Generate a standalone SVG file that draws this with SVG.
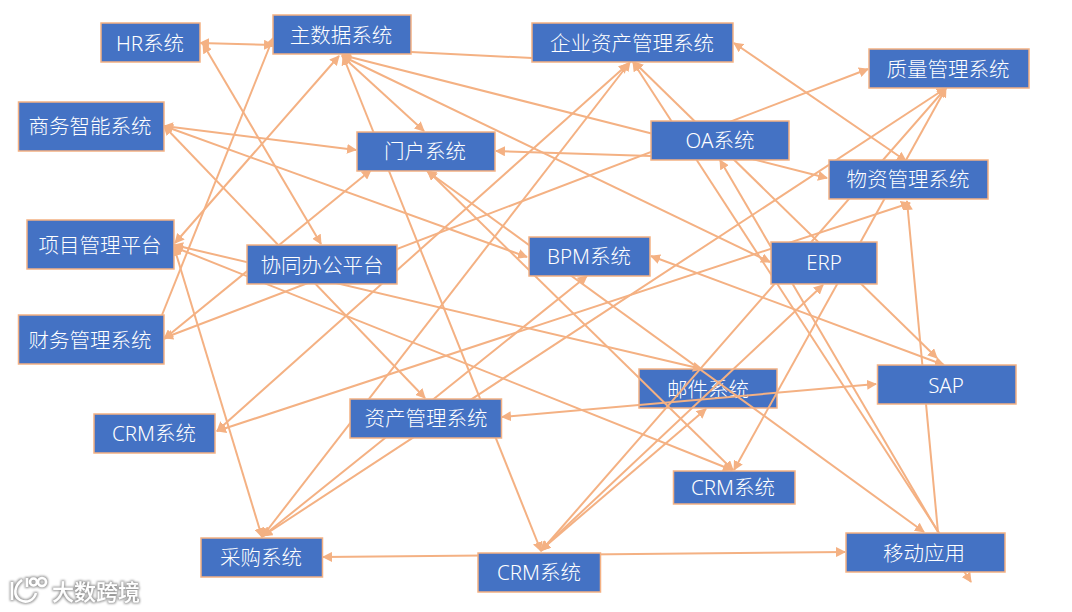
<svg xmlns="http://www.w3.org/2000/svg" width="1072" height="612" viewBox="0 0 1072 612">
<style>
.n{fill:#4472C4;stroke:#F4B183;stroke-width:1.5}
.t{fill:#fff;font-family:"Noto Sans","Noto Sans CJK SC",sans-serif;font-size:20.5px;font-weight:300;text-anchor:middle;dominant-baseline:central}
.c line{stroke:#F4B183;stroke-width:2;fill:none}
.b{marker-start:url(#a);marker-end:url(#a)}
.e{marker-end:url(#a)}
.w{fill:#fff;font-family:"Noto Sans CJK SC",sans-serif;font-size:22px;font-weight:500}
.l{fill:none;stroke:#fff;stroke-width:2.5}
</style>
<defs>
<marker id="a" viewBox="0 0 10 10" refX="9" refY="5" markerWidth="10" markerHeight="10" markerUnits="userSpaceOnUse" orient="auto-start-reverse"><path d="M0 0L10 5L0 10Z" fill="#F4B183"/></marker>
<filter id="g" x="-10%" y="-30%" width="120%" height="160%"><feMorphology in="SourceAlpha" operator="dilate" radius="1" result="d"/><feGaussianBlur in="d" stdDeviation="0.9" result="bl"/><feFlood flood-color="#9a9a9a"/><feComposite in2="bl" operator="in" result="sh"/><feMerge><feMergeNode in="sh"/><feMergeNode in="SourceGraphic"/></feMerge></filter>
</defs>
<g id="n-mail"><rect class="n" x="639" y="369" width="138" height="39"/><text class="t" x="708" y="389">邮件系统</text></g>
<g id="connectors" class="c">
<line class="b" x1="200" y1="43" x2="273" y2="45"/>
<line class="b" x1="203" y1="44" x2="321" y2="244"/>
<line class="e" x1="162" y1="315" x2="273" y2="38"/>
<line class="b" x1="339" y1="56" x2="175" y2="243"/>
<line class="b" x1="342" y1="56" x2="424" y2="131"/>
<line class="b" x1="343" y1="56" x2="541" y2="551"/>
<line class="b" x1="342" y1="55" x2="827" y2="178"/>
<line class="b" x1="342" y1="56" x2="770" y2="262"/>
<line x1="411" y1="52" x2="532" y2="58"/>
<line class="b" x1="164" y1="126" x2="356" y2="150"/>
<line class="b" x1="164" y1="126" x2="527" y2="257"/>
<line class="b" x1="164" y1="126" x2="425" y2="398"/>
<line class="b" x1="164" y1="339" x2="371" y2="170"/>
<line class="b" x1="164" y1="338" x2="868" y2="69"/>
<line class="b" x1="174" y1="245" x2="702" y2="369"/>
<line class="b" x1="174" y1="247" x2="732" y2="470"/>
<line class="b" x1="174" y1="247" x2="262" y2="537"/>
<line class="b" x1="217" y1="431" x2="628" y2="64"/>
<line class="b" x1="262" y1="537" x2="630" y2="62"/>
<line class="b" x1="217" y1="431" x2="910" y2="203"/>
<line class="b" x1="263" y1="536" x2="946" y2="88"/>
<line class="b" x1="263" y1="536" x2="587" y2="276"/>
<line class="b" x1="633" y1="62" x2="971" y2="582"/>
<line class="b" x1="634" y1="62" x2="937" y2="358"/>
<line class="b" x1="734" y1="43" x2="906" y2="161"/>
<line class="e" x1="651" y1="156" x2="496" y2="151"/>
<line class="b" x1="541" y1="551" x2="946" y2="88"/>
<line class="b" x1="734" y1="470" x2="946" y2="88"/>
<line class="b" x1="651" y1="256" x2="944" y2="365"/>
<line class="b" x1="427" y1="171" x2="924" y2="532"/>
<line class="b" x1="428" y1="171" x2="733" y2="470"/>
<line class="e" x1="938" y1="532" x2="720" y2="160"/>
<line class="b" x1="541" y1="550" x2="823" y2="285"/>
<line class="b" x1="541" y1="550" x2="706" y2="409"/>
<line class="b" x1="502" y1="417" x2="876" y2="384"/>
<line class="b" x1="323" y1="557" x2="845" y2="552"/>
<line class="e" x1="938" y1="532" x2="907" y2="201"/>
</g>
<g id="n-hr"><rect class="n" x="101" y="23" width="99" height="39"/><text class="t" x="150" y="43">HR系统</text></g>
<g id="n-master"><rect class="n" x="273" y="15" width="138" height="39"/><text class="t" x="341" y="35">主数据系统</text></g>
<g id="n-eam"><rect class="n" x="532" y="23" width="201" height="39"/><text class="t" x="632" y="43">企业资产管理系统</text></g>
<g id="n-qms"><rect class="n" x="869" y="49" width="160" height="39"/><text class="t" x="948" y="69">质量管理系统</text></g>
<g id="n-bi"><rect class="n" x="18.500" y="102" width="145.500" height="49"/><text class="t" x="90" y="126">商务智能系统</text></g>
<g id="n-portal"><rect class="n" x="357" y="132" width="138" height="39"/><text class="t" x="425" y="151">门户系统</text></g>
<g id="n-oa"><rect class="n" x="651" y="121" width="138" height="39"/><text class="t" x="720" y="140">OA系统</text></g>
<g id="n-material"><rect class="n" x="829" y="160" width="159" height="39"/><text class="t" x="908" y="179">物资管理系统</text></g>
<g id="n-project"><rect class="n" x="27" y="220" width="147" height="49"/><text class="t" x="100" y="245">项目管理平台</text></g>
<g id="n-collab"><rect class="n" x="247" y="245" width="150" height="39"/><text class="t" x="322" y="265">协同办公平台</text></g>
<g id="n-bpm"><rect class="n" x="529" y="237" width="121" height="39"/><text class="t" x="589" y="256">BPM系统</text></g>
<g id="n-erp"><rect class="n" x="771" y="242" width="106" height="42"/><text class="t" x="824" y="262">ERP</text></g>
<g id="n-finance"><rect class="n" x="18.500" y="315" width="145.500" height="49"/><text class="t" x="90" y="340">财务管理系统</text></g>
<g id="n-crm1"><rect class="n" x="94" y="414" width="121" height="39"/><text class="t" x="154" y="433">CRM系统</text></g>
<g id="n-asset"><rect class="n" x="350" y="399" width="151.500" height="39"/><text class="t" x="426" y="418">资产管理系统</text></g>
<g id="n-sap"><rect class="n" x="877.500" y="365" width="138.500" height="39"/><text class="t" x="946" y="385">SAP</text></g>
<g id="n-crm2"><rect class="n" x="673.500" y="471" width="121.500" height="33"/><text class="t" x="733" y="487">CRM系统</text></g>
<g id="n-purchase"><rect class="n" x="201" y="538" width="121.500" height="39"/><text class="t" x="261" y="557">采购系统</text></g>
<g id="n-crm3"><rect class="n" x="478" y="553" width="122.500" height="39"/><text class="t" x="539" y="572">CRM系统</text></g>
<g id="n-mobile"><rect class="n" x="846" y="533" width="159" height="39"/><text class="t" x="924" y="553">移动应用</text></g>
<g filter="url(#g)">
<path class="l" d="M12 582V600M22 580C14 586 13 596 20 600C27 604 34 600 36 593"/>
<path class="l" d="M27 578V587"/>
<circle class="l" cx="33.500" cy="582" r="3.500"/>
<circle class="l" cx="42" cy="582" r="4"/>
<text class="w" x="52" y="600">大数跨境</text>
</g>
</svg>
